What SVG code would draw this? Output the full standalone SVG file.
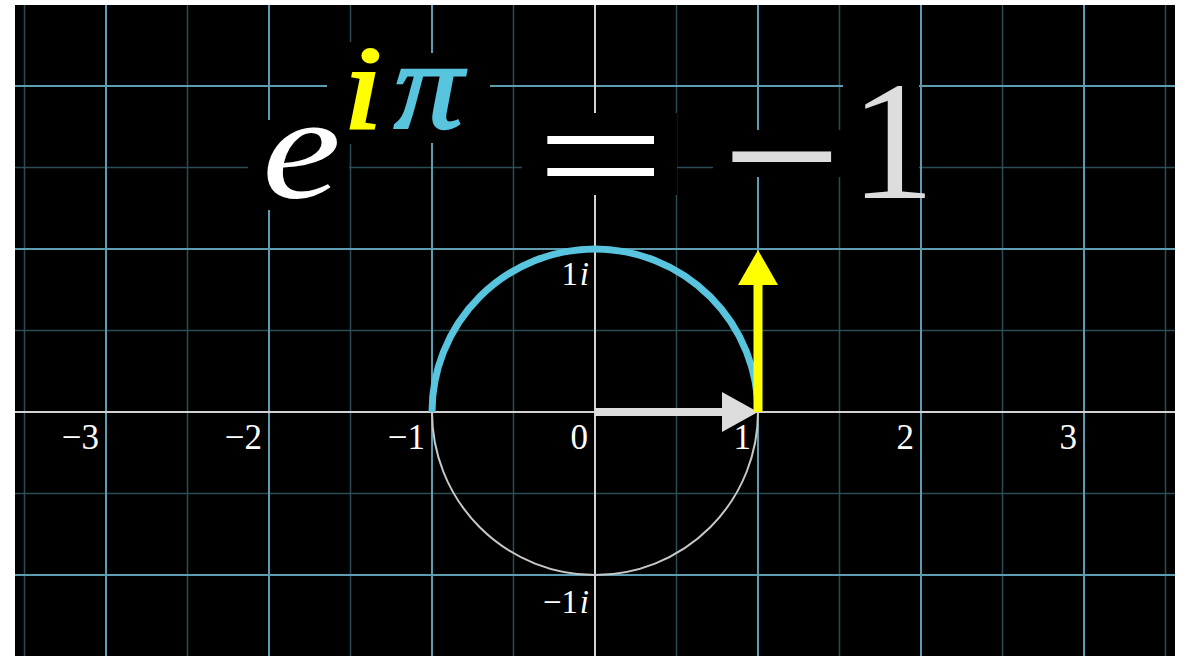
<svg xmlns="http://www.w3.org/2000/svg" width="1183" height="656" viewBox="0 0 1183 656">
<style>
.major{stroke:#5e9db1;stroke-width:2;fill:none}
.minor{stroke:#2c4c55;stroke-width:1.5;fill:none}
.axis{stroke:#d2d2d2;stroke-width:2;fill:none}
.lbl{font-family:"Liberation Serif","DejaVu Serif",serif;font-size:35px;fill:#ffffff;text-anchor:end}
.lbli{font-family:"Liberation Serif","DejaVu Serif",serif;font-size:33px;fill:#ffffff;font-style:italic;text-anchor:end}
.tx{font-family:"Liberation Serif","DejaVu Serif",serif}
.box{fill:#000000}
</style>
<defs>
<clipPath id="frame"><rect x="15" y="5" width="1160" height="651"/></clipPath>
</defs>
<rect x="0" y="0" width="1183" height="656" fill="#ffffff"/>
<rect x="15" y="5" width="1160" height="651" fill="#000000"/>
<g id="grid" clip-path="url(#frame)">
<g class="minor">
<line x1="24.5" y1="0" x2="24.5" y2="656"/>
<line x1="187.5" y1="0" x2="187.5" y2="656"/>
<line x1="350.5" y1="0" x2="350.5" y2="656"/>
<line x1="513.5" y1="0" x2="513.5" y2="656"/>
<line x1="676.5" y1="0" x2="676.5" y2="656"/>
<line x1="839.5" y1="0" x2="839.5" y2="656"/>
<line x1="1002.5" y1="0" x2="1002.5" y2="656"/>
<line x1="1165.5" y1="0" x2="1165.5" y2="656"/>
<line x1="0" y1="167.5" x2="1183" y2="167.5"/>
<line x1="0" y1="330.5" x2="1183" y2="330.5"/>
<line x1="0" y1="493.5" x2="1183" y2="493.5"/>
</g>
<g class="major">
<line x1="106" y1="0" x2="106" y2="656"/>
<line x1="269" y1="0" x2="269" y2="656"/>
<line x1="432" y1="0" x2="432" y2="656"/>
<line x1="758" y1="0" x2="758" y2="656"/>
<line x1="921" y1="0" x2="921" y2="656"/>
<line x1="1084" y1="0" x2="1084" y2="656"/>
<line x1="0" y1="86" x2="1183" y2="86"/>
<line x1="0" y1="249" x2="1183" y2="249"/>
<line x1="0" y1="575" x2="1183" y2="575"/>
</g>
<g class="axis">
<line x1="595" y1="0" x2="595" y2="656"/>
<line x1="0" y1="412" x2="1183" y2="412"/>
</g>
</g>
<g id="axis-labels">
<text class="lbl" x="99" y="449">−3</text>
<text class="lbl" x="262" y="449">−2</text>
<text class="lbl" x="425" y="449">−1</text>
<text class="lbl" x="588" y="449">0</text>
<text class="lbl" x="751" y="449">1</text>
<text class="lbl" x="914" y="449">2</text>
<text class="lbl" x="1077" y="449">3</text>
<text class="lbl" x="578" y="285" style="font-size:33px">1</text>
<text class="lbli" x="589" y="285">i</text>
<text class="lbl" x="578" y="613" style="font-size:33px">−1</text>
<text class="lbli" x="589" y="613">i</text>
</g>
<g id="unit-circle">
<circle cx="595" cy="412" r="163" fill="none" stroke="#c8c8c8" stroke-width="2"/>
</g>
<g id="half-arc">
<path d="M432 412 A163 163 0 0 1 758 412" fill="none" stroke="#58c4dd" stroke-width="7"/>
</g>
<g id="connectors">
<g id="vector-1">
<line x1="595" y1="412" x2="724" y2="412" stroke="#dddddd" stroke-width="8"/>
<polygon points="722,392 758,412 722,432" fill="#dddddd"/>
</g>
<g id="vector-i">
<line x1="758" y1="412" x2="758" y2="283" stroke="#ffff00" stroke-width="9"/>
<polygon points="738,285 758,250 778,285" fill="#ffff00"/>
</g>
</g>
<g id="formula">
<rect class="box" x="248" y="120" width="101" height="90"/>
<rect class="box" x="327" y="42" width="62" height="102"/>
<rect class="box" x="386" y="53" width="104" height="90"/>
<rect class="box" x="522" y="113" width="155" height="82"/>
<rect class="box" x="713" y="130" width="132" height="47"/>
<rect class="box" x="843" y="62" width="76" height="150"/>
<text class="tx" transform="translate(262,198) scale(1.2,1)" font-size="148" font-style="italic" fill="#ffffff">e</text>
<text class="tx" transform="translate(344,128) scale(1.15,1)" font-size="118" font-style="italic" fill="#ffff00" stroke="#ffff00" stroke-width="3">i</text>
<text class="tx" transform="translate(394,128) scale(1.1,1)" font-size="125" font-style="italic" fill="#58c4dd" stroke="#58c4dd" stroke-width="2.5">π</text>
<text class="tx" transform="translate(536,209) scale(1.45,1)" font-size="158" fill="#ffffff">=</text>
<text class="tx" x="722" y="227" font-size="212" fill="#dddddd">−</text>
<text class="tx" x="850" y="198" font-size="170" fill="#dddddd">1</text>
</g>
</svg>
